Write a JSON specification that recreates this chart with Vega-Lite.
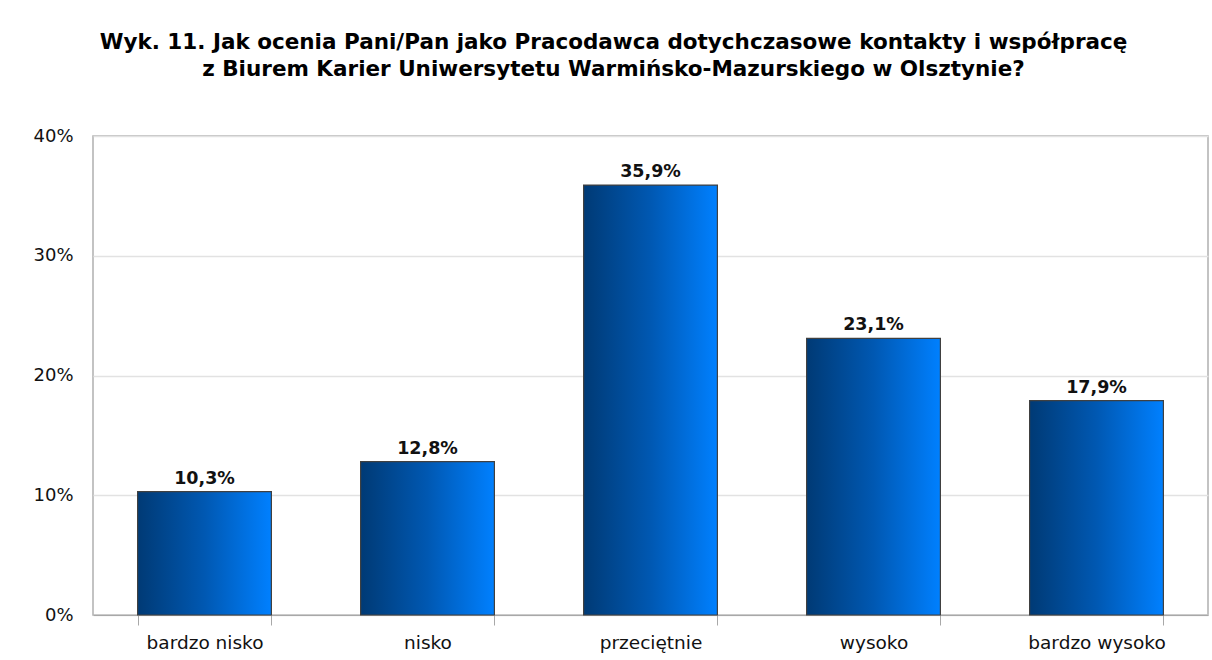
{
  "$schema": "https://vega.github.io/schema/vega-lite/v6.json",
  "width": 1115,
  "height": 479,
  "autosize": {"type": "none"},
  "padding": {"left": 93, "top": 136, "right": 4, "bottom": 45},
  "background": "#ffffff",
  "title": {
    "text": ["Wyk. 11. Jak ocenia Pani/Pan jako Pracodawca dotychczasowe kontakty i współpracę", "z Biurem Karier Uniwersytetu Warmińsko-Mazurskiego w Olsztynie?"],
    "font": "DejaVu Sans",
    "fontSize": 21.5,
    "fontWeight": "bold",
    "color": "#000000",
    "anchor": "middle",
    "frame": "group",
    "dx": -37,
    "lineHeight": 27,
    "offset": 47
  },
  "data": {
    "values": [
      {"ocena": "bardzo nisko", "udzial": 0.103},
      {"ocena": "nisko", "udzial": 0.128},
      {"ocena": "przeciętnie", "udzial": 0.359},
      {"ocena": "wysoko", "udzial": 0.231},
      {"ocena": "bardzo wysoko", "udzial": 0.179}
    ]
  },
  "encoding": {
    "x": {
      "field": "ocena",
      "type": "nominal",
      "sort": null,
      "scale": {"paddingInner": 0.4, "paddingOuter": 0.2},
      "axis": {
        "title": null,
        "labelAngle": 0,
        "labelFont": "DejaVu Sans",
        "labelFontSize": 18.5,
        "labelColor": "#111111",
        "labelPadding": 8,
        "domainColor": "#a8a8a8",
        "tickColor": "#a8a8a8",
        "tickSize": 10,
        "tickBand": "extent",
        "grid": false
      }
    },
    "y": {
      "field": "udzial",
      "type": "quantitative",
      "scale": {"domain": [0, 0.4], "nice": false},
      "axis": {
        "title": null,
        "values": [0, 0.1, 0.2, 0.3, 0.4],
        "format": ".0%",
        "labelFont": "DejaVu Sans",
        "labelFontSize": 18,
        "labelColor": "#111111",
        "labelPadding": 20,
        "ticks": false,
        "domain": false,
        "grid": true,
        "gridColor": "#e2e2e2",
        "gridWidth": 1.5
      }
    }
  },
  "layer": [
    {
      "mark": {
        "type": "bar",
        "stroke": "#404040",
        "strokeWidth": 1.2,
        "fill": {
          "gradient": "linear",
          "x1": 0, "y1": 0, "x2": 1, "y2": 0,
          "stops": [
            {"offset": 0, "color": "#003a75"},
            {"offset": 0.5, "color": "#0058b2"},
            {"offset": 1, "color": "#0080ff"}
          ]
        }
      }
    },
    {
      "mark": {
        "type": "text",
        "font": "DejaVu Sans",
        "fontSize": 17.5,
        "fontWeight": "bold",
        "color": "#111111",
        "baseline": "alphabetic",
        "dy": -8
      },
      "encoding": {
        "text": {"field": "udzial", "type": "quantitative", "format": ".1%"}
      }
    }
  ],
  "config": {
    "locale": {
      "number": {"decimal": ",", "thousands": " ", "grouping": [3], "currency": ["", " zł"]}
    },
    "view": {"stroke": "#b0b0b0", "strokeWidth": 1.5}
  }
}
